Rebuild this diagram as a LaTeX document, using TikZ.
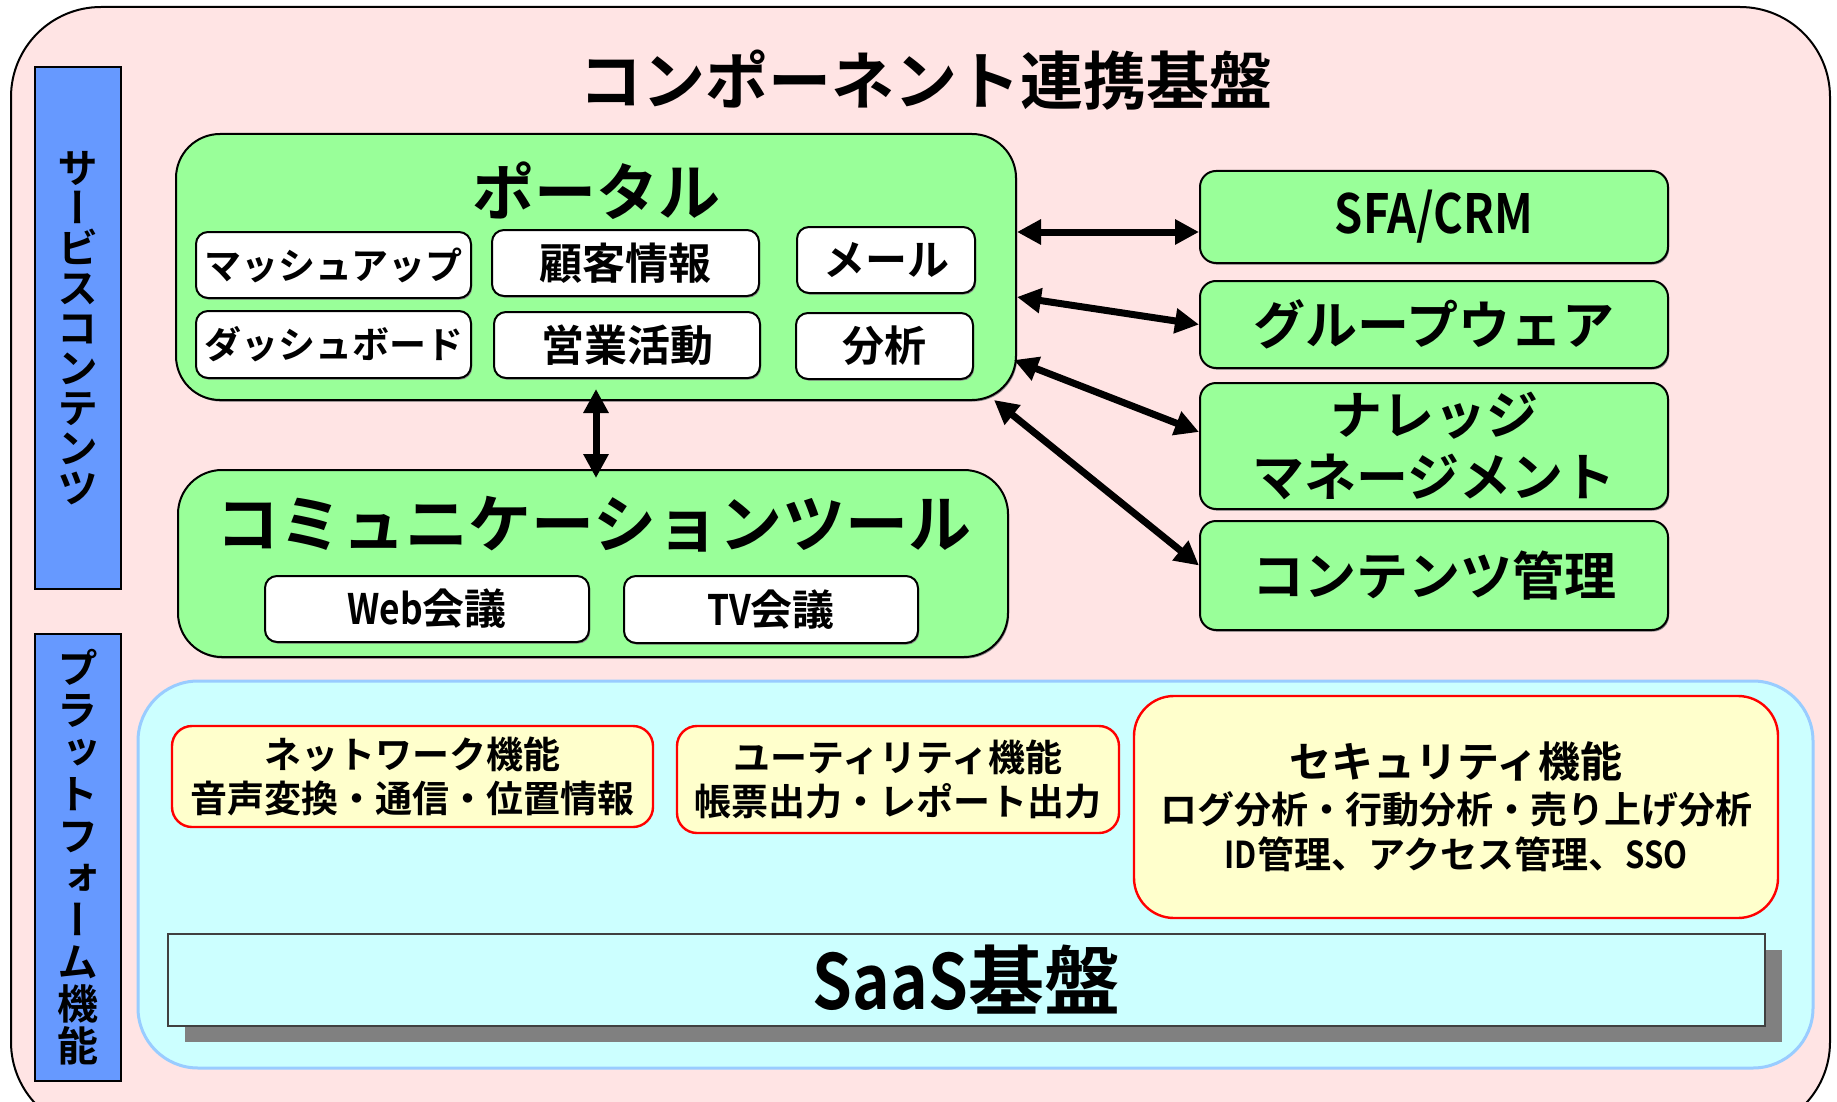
\documentclass[tikz,border=0pt]{standalone}
\usepackage{fontspec}
\setmainfont{Noto Sans CJK JP}[BoldFont={* Bold}]
\newfontfamily\vjp{Noto Sans CJK JP}[BoldFont={* Bold},RawFeature=+vert]
\usetikzlibrary{arrows.meta,calc,shadows}
\definecolor{bgpink}{HTML}{FFE4E4}
\definecolor{lgreen}{HTML}{99FF99}
\definecolor{barblue}{HTML}{6699FF}
\definecolor{lcyan}{HTML}{CCFFFF}
\definecolor{cyanedge}{HTML}{99CCFF}
\definecolor{lyellow}{HTML}{FFFFCC}
\newcommand{\fsz}[2]{\fontsize{#1}{#2}\selectfont\bfseries}
\newcommand{\nl}[1]{\scalebox{0.84}[1]{#1}}
\begin{document}
\begin{tikzpicture}[x=0.5pt,y=-0.5pt,
  thinshadow/.style={drop shadow={shadow xshift=0.6pt,shadow yshift=-0.8pt,fill=black!45,opacity=1}},
  gbox/.style={draw=black,line width=1pt,fill=lgreen,rounded corners=22pt,inner sep=0pt,align=center,thinshadow},
  rbox/.style={draw=black,line width=1pt,fill=lgreen,rounded corners=8pt,inner sep=0pt,align=center,
    minimum width=234pt,font=\fsz{26pt}{31pt},thinshadow},
  wbox/.style={draw=black,line width=1pt,fill=white,rounded corners=6pt,inner sep=0pt,align=center,
    minimum height=33pt,thinshadow},
  ybox/.style={draw=red,line width=1.2pt,fill=lyellow,rounded corners=10pt,inner sep=0pt,align=center},
  bbar/.style={draw=black,line width=1.2pt,fill=barblue,inner sep=0pt,align=center,minimum width=43pt},
  biarr/.style={{Triangle[length=12pt,width=12pt]}-{Triangle[length=12pt,width=12pt]},line width=3.5pt}
]
\useasboundingbox (0,0) rectangle (1837,1102);
% outer frame
\draw[fill=bgpink,line width=1pt,rounded corners=45pt] (11,7) rectangle (1830,1132);
% title
\node[font=\fsz{31.5pt}{36pt}] (title) at (926,80) {コンポーネント連携基盤};
% side bars
\node[bbar,minimum height=261pt,font={\vjp\fsz{20.5pt}{20pt}\lineskiplimit=-30pt}] (svc) at (78,328)
  {サ\\ー\\ビ\\ス\\コ\\ン\\テ\\ン\\ツ};
\node[bbar,minimum height=223.5pt,font={\vjp\fsz{20.5pt}{21pt}\lineskiplimit=-30pt}] (pltf) at (78,857.5)
  {プ\\ラ\\ッ\\ト\\フ\\ォ\\ー\\ム\\機\\能};
% portal
\node[gbox,minimum width=420pt,minimum height=133pt] (portal) at (596,267) {};
\node[font=\fsz{31pt}{36pt}] (ptitle) at (596,191) {ポータル};
\node[wbox,minimum width=137.5pt,font=\fsz{18.5pt}{20pt}] (mash) at (333.5,265) {マッシュアップ};
\node[wbox,minimum width=133.5pt,font=\fsz{21.5pt}{24pt}] (kokyaku) at (625.5,263) {顧客情報};
\node[wbox,minimum width=89pt,font=\fsz{21pt}{24pt}] (mail) at (886,260) {メール};
\node[wbox,minimum width=137.5pt,minimum height=33.5pt,font=\fsz{18.5pt}{20pt}] (dash) at (333.5,344.5) {ダッシュボード};
\node[wbox,minimum width=133pt,font=\fsz{21.5pt}{24pt}] (eigyo) at (627,345) {営業活動};
\node[wbox,minimum width=88.5pt,font=\fsz{21pt}{24pt}] (bunseki) at (884.5,346) {分析};
% communication tool
\node[gbox,minimum width=415pt,minimum height=93.5pt] (comm) at (593,563.5) {};
\node[font=\fsz{31.5pt}{36pt}] (ctitle) at (594,524) {コミュニケーションツール};
\node[wbox,minimum width=162pt,font=\fsz{21pt}{24pt}] (web) at (427,609) {\nl{Web}会議};
\node[wbox,minimum width=147pt,minimum height=33.5pt,font=\fsz{21pt}{24pt}] (tv) at (771,609.5) {\nl{TV}会議};
% right boxes
\node[rbox,minimum height=46pt,font=\fsz{27pt}{31pt}] (sfa) at (1434,217) {\nl{SFA/CRM}};
\node[rbox,minimum height=43.5pt] (gw) at (1434,324.5) {グループウェア};
\node[rbox,minimum height=63pt] (km) at (1434,446) {ナレッジ\\マネージメント};
\node[rbox,minimum height=54.5pt] (cm) at (1434,575.5) {コンテンツ管理};
% arrows
\draw[biarr] ($(sfa.west -| portal.east)+(0,15)$) -- ($(sfa.west)+(0,15)$);
\draw[biarr] ($(portal.east)+(0,30)$) -- (gw.west);
\draw[biarr] ($(portal.east)+(-3,93)$) -- ($(km.west)+(0,-14)$);
\draw[biarr] ($(portal.south east)+(-23,-1)$) -- ($(cm.west)+(0,-10)$);
\draw[biarr] ($(portal.south)+(0,-12)$) -- ($(comm.north -| portal.south)+(0,9)$);
% platform
\node[draw=cyanedge,line width=1.5pt,fill=lcyan,rounded corners=30pt,minimum width=837.5pt,minimum height=193.5pt] (plat) at (975.5,874.5) {};
\node[ybox,minimum width=240.5pt,minimum height=50.5pt,font=\fsz{18.5pt}{22pt}] (net) at (412.5,776.5)
  {ネットワーク機能\\音声変換・通信・位置情報};
\node[ybox,minimum width=221pt,minimum height=53.5pt,font=\fsz{18.5pt}{22pt}] (util) at (898,779.5)
  {ユーティリティ機能\\帳票出力・レポート出力};
\node[ybox,rounded corners=20pt,minimum width=322pt,minimum height=111pt,font=\fsz{18.5pt}{22.75pt}] (sec) at (1456,807)
  {{\fontsize{21pt}{22.75pt}\selectfont セキュリティ機能}\\ログ分析・行動分析・売り上げ分析\\\nl{ID}管理、アクセス管理、\nl{SSO}};
\node[draw=black!75,line width=1pt,fill=lcyan,minimum width=798.5pt,minimum height=46pt,
  drop shadow={shadow xshift=8.5pt,shadow yshift=-8pt,fill=black!50,opacity=1},
  font=\fsz{38pt}{40pt}] (saas) at (966.5,980) {\nl{SaaS}基盤};
\end{tikzpicture}
\end{document}
